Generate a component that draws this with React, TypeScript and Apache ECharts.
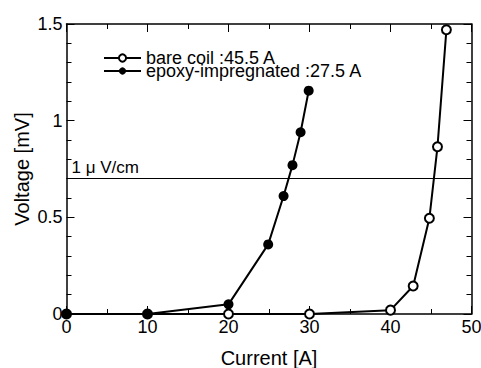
import React, { useEffect, useRef } from "react";
import * as echarts from "echarts";

const currentBare = [0, 10, 20, 30, 40, 42.8, 44.8, 45.8, 46.9];
const voltageBare = [0, 0, 0, 0, 0.02, 0.145, 0.495, 0.865, 1.47];
const currentEpoxy = [0, 10, 20, 24.9, 26.8, 27.9, 28.9, 29.9];
const voltageEpoxy = [0, 0, 0.05, 0.36, 0.61, 0.77, 0.94, 1.155];
const seriesNames = ["bare coil :45.5 A", "epoxy-impregnated :27.5 A"];
const criterionVoltage = 0.7;
const criterionLabel = "1 \u03bc V/cm";
const xName = "Current [A]";
const yName = "Voltage [mV]";

const FONT = "Liberation Sans, Arial, sans-serif";
const INK = "#000";

function ax(kind: "x" | "y", position: string, labels: boolean) {
  const isX = kind === "x";
  return {
    type: "value",
    min: 0,
    max: isX ? 50 : 1.5,
    interval: isX ? 10 : 0.5,
    position,
    axisLine: { show: true, onZero: false, lineStyle: { color: INK, width: 1.5 } },
    axisTick: { show: true, inside: true, length: 8, lineStyle: { color: INK, width: 1 } },
    minorTick: { show: true, splitNumber: isX ? 2 : 5, length: 5, lineStyle: { color: INK, width: 1 } },
    splitLine: { show: false },
    axisLabel: labels
      ? { show: true, fontSize: 18, fontFamily: FONT, color: INK, margin: 4 }
      : { show: false },
  };
}

export default function App() {
  const ref = useRef<HTMLDivElement>(null);
  useEffect(() => {
    if (!ref.current) return;
    const chart = echarts.init(ref.current, undefined, { renderer: "svg" });
    chart.setOption({
      animation: false,
      grid: { left: 66.5, right: 9.5, top: 24, bottom: 54, outerBoundsMode: "none" },
      legend: {
        left: 98,
        top: 44,
        orient: "vertical",
        itemWidth: 37,
        itemHeight: 9,
        itemGap: -5,
        textStyle: { color: INK, fontSize: 18, fontFamily: FONT },
        data: seriesNames,
      },
      graphic: [
        {
          type: "text",
          x: 269,
          y: 358,
          style: {
            text: xName,
            fontSize: 20,
            fontFamily: FONT,
            fill: INK,
            align: "center",
            verticalAlign: "middle",
          },
        },
        {
          type: "text",
          x: 22,
          y: 169,
          rotation: Math.PI / 2,
          style: {
            text: yName,
            fontSize: 20,
            fontFamily: FONT,
            fill: INK,
            align: "center",
            verticalAlign: "middle",
          },
        },
      ],
      xAxis: [ax("x", "bottom", true), ax("x", "top", false)],
      yAxis: [ax("y", "left", true), ax("y", "right", false)],
      series: [
        {
          name: seriesNames[0],
          type: "line",
          data: currentBare.map((c, i) => [c, voltageBare[i]]),
          symbol: "emptyCircle",
          symbolSize: 9,
          itemStyle: { color: INK, borderWidth: 1.8 },
          lineStyle: { color: INK, width: 2 },
          markLine: {
            silent: true,
            symbol: "none",
            lineStyle: { color: INK, width: 1.2, type: "solid" },
            label: {
              show: true,
              position: "insideStartTop",
              formatter: criterionLabel,
              color: INK,
              fontSize: 17,
              fontFamily: FONT,
              distance: [5, 3],
            },
            data: [{ yAxis: criterionVoltage }],
          },
        },
        {
          name: seriesNames[1],
          type: "line",
          data: currentEpoxy.map((c, i) => [c, voltageEpoxy[i]]),
          symbol: "circle",
          symbolSize: 10,
          itemStyle: { color: INK },
          lineStyle: { color: INK, width: 2 },
        },
      ],
    });
    return () => chart.dispose();
  }, []);
  return (
    <div
      ref={ref}
      style={{ position: "fixed", left: 0, top: 0, width: 481, height: 368, background: "#fff" }}
    />
  );
}
